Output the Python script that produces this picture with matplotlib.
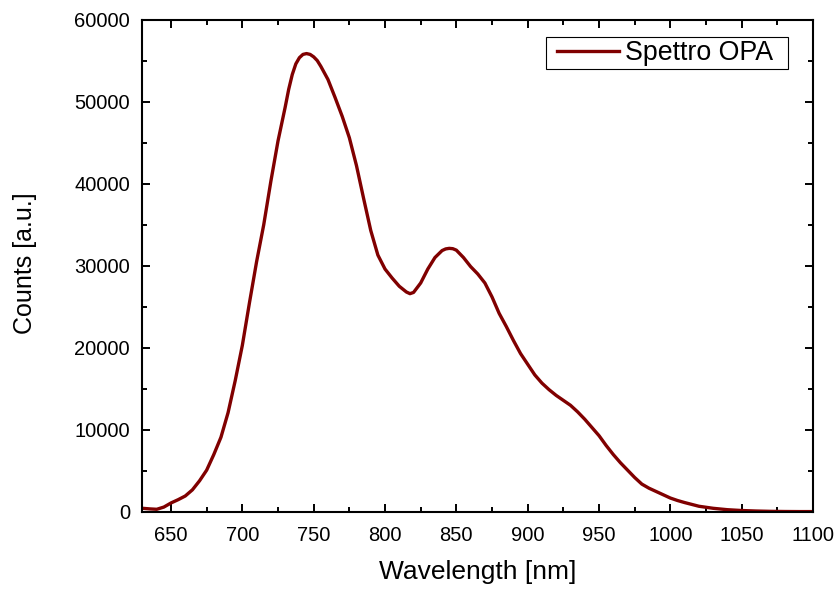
import matplotlib
matplotlib.use("Agg")
import matplotlib.pyplot as plt
from matplotlib.ticker import MultipleLocator
from matplotlib.patches import Rectangle

wavelength = [630, 635, 640, 645, 650, 655, 660, 665, 670, 675, 680, 685, 690, 695,
              700, 705, 710, 715, 720, 725, 730, 732.5, 735, 737.5, 740, 742.5, 745,
              747.5, 750, 752.5, 755, 760, 765,
              770, 775, 780, 785, 790, 795, 800, 805, 810, 815, 817.5, 820, 825, 830, 835,
              840, 842.5, 845, 847.5, 850, 855, 860, 865, 870, 875, 880, 885, 890, 895, 900, 905,
              910, 915, 920, 925, 930, 935, 940, 945, 950, 955, 960, 965, 970, 975,
              980, 985, 990, 995, 1000, 1005, 1010, 1020, 1030, 1040, 1050, 1060,
              1070, 1080, 1090, 1100]
counts = [450, 380, 330, 600, 1100, 1500, 1950, 2700, 3800, 5100, 7000, 9100, 12100, 16000,
          20300, 25500, 30500, 35000, 40300, 45200, 49300, 51500, 53300, 54600, 55350, 55750, 55850,
          55750, 55450, 55000, 54300, 52700, 50500,
          48200, 45600, 42200, 38200, 34300, 31300, 29600, 28500, 27500, 26800, 26600, 26750, 27900, 29600, 31000,
          31850, 32050, 32120, 32080, 31900, 31000, 29900, 29000, 27900, 26200, 24200, 22600, 20900, 19300, 18000, 16700,
          15700, 14900, 14200, 13600, 13000, 12200, 11300, 10300, 9300, 8100, 7000, 6000, 5100, 4200,
          3400, 2900, 2500, 2100, 1700, 1400, 1150, 700, 450, 280, 180, 120,
          80, 60, 50, 50]

plt.rcParams['font.family'] = ['Liberation Sans', 'DejaVu Sans']

fig = plt.figure(figsize=(8.4, 5.95), dpi=100)
ax = fig.add_axes([0.1696, 0.1395, 0.7983, 0.8277])

ax.plot(wavelength, counts, color='#800000', lw=2.4, label='Spettro OPA',
        solid_joinstyle='round')

ax.set_xlim(630, 1100)
ax.set_ylim(0, 60000)
ax.xaxis.set_major_locator(MultipleLocator(50))
ax.xaxis.set_minor_locator(MultipleLocator(25))
ax.yaxis.set_major_locator(MultipleLocator(10000))
ax.yaxis.set_minor_locator(MultipleLocator(5000))
ax.tick_params(which='both', direction='in', top=True, right=True, width=1.4,
               labelsize=14.5)
ax.tick_params(which='major', length=6)
ax.tick_params(which='minor', length=3.5)
ax.tick_params(axis='x', which='major', pad=10)
ax.tick_params(axis='y', which='major', pad=9)
for s in ax.spines.values():
    s.set_linewidth(1.5)

ax.set_xlabel('Wavelength [nm]', fontsize=19)
ax.set_ylabel('Counts [a.u.]', fontsize=18)
ax.xaxis.set_label_coords(0.5, -0.098)
ax.yaxis.set_label_coords(-0.157, 0.505)

# legend frame
ax.add_patch(Rectangle((0.6018, 0.8995), 0.963 - 0.6018, 0.964 - 0.8995,
                       transform=ax.transAxes, facecolor='white',
                       edgecolor='black', lw=0.8, zorder=4))
leg = ax.legend(loc='center left', fontsize=19.3, frameon=False,
                handlelength=2.31, handletextpad=0.22, borderpad=0,
                borderaxespad=0, bbox_to_anchor=(0.6182, 0.932))
leg.set_zorder(5)

fig.savefig('out.png', dpi=100)
